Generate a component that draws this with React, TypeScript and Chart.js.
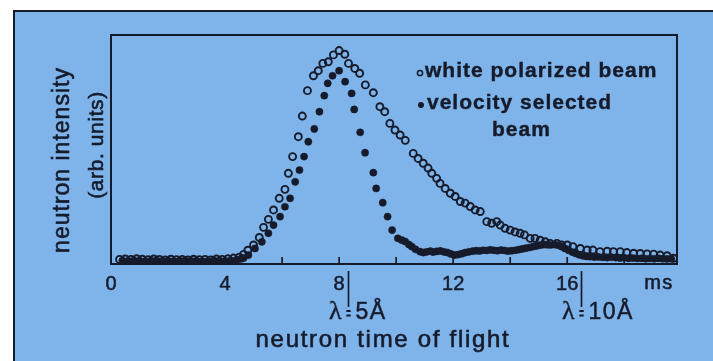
import React, { useEffect, useRef } from "react";
import { Chart, registerables } from "chart.js";

Chart.register(...registerables);

// Time of flight (ms) and intensity (arb. units) for the white polarized beam
const whiteTime = [
  0.3, 0.5, 0.7, 0.9, 1.1, 1.3, 1.5, 1.7, 1.9, 2.1, 2.3, 2.5, 2.7, 2.9, 3.1, 3.3, 3.5, 3.7, 3.9, 4.1,
  4.3, 4.5, 4.65, 4.8, 5.0, 5.2, 5.35, 5.52, 5.7, 5.9, 6.1, 6.22, 6.37, 6.57, 6.71, 6.89, 7.1, 7.27,
  7.43, 7.62, 7.8, 8.0, 8.2, 8.33, 8.55, 8.72, 8.92, 9.2, 9.43, 9.6, 9.78, 9.96, 10.14, 10.32, 10.6,
  10.77, 10.95, 11.12, 11.25, 11.42, 11.54, 11.72, 11.9, 12.07, 12.25, 12.42, 12.6, 12.77, 12.95,
  13.18, 13.35, 13.53, 13.65, 13.82, 14.0, 14.17, 14.35, 14.5, 14.7, 14.87, 15.05, 15.23, 15.4,
  15.64, 15.8, 16.0, 16.2, 16.46, 16.7, 16.9, 17.15, 17.4, 17.62, 17.86, 18.09, 18.33, 18.56, 18.8,
  19.03, 19.26, 19.5, 19.73,
];
const whiteIntensity = [
  2.0, 2.2, 2.0, 2.3, 2.1, 1.9, 2.2, 2.0, 1.8, 2.1, 1.9, 2.0, 1.8, 2.1, 1.9, 2.0, 1.8, 2.2, 2.0, 2.3,
  2.6, 3.0, 4.2, 6.0, 8.3, 11.6, 16.0, 19.5, 23.6, 28.7, 32.6, 39.6, 46.9, 55.6, 64.6, 75.7, 82.2, 84.4,
  87.6, 88.3, 91.3, 93.2, 91.6, 87.6, 85.4, 83.3, 78.2, 74.8, 68.7, 66.5, 61.4, 58.5, 56.3, 54.0, 48.3,
  46.1, 44.0, 41.9, 39.6, 37.4, 35.2, 33.0, 30.9, 29.5, 27.3, 26.6, 25.1, 23.6, 22.9,
  18.5, 17.8, 18.5, 17.0, 15.6, 14.8, 14.0, 13.4, 12.7, 11.2, 11.2, 10.4, 9.7, 9.0,
  9.0, 8.3, 8.3, 7.6, 6.8, 6.1, 6.1, 5.4, 5.6, 5.4, 5.4, 5.0, 4.7, 4.6, 4.4,
  4.3, 3.9, 3.6, 2.5,
];

// Time of flight (ms) and intensity (arb. units) for the velocity selected beam
const velocityTime = [
  0.4, 0.6, 0.8, 1.0, 1.2, 1.4, 1.6, 1.8, 2.0, 2.2, 2.4, 2.6, 2.8, 3.0, 3.2, 3.4, 3.6, 3.8, 4.0, 4.2,
  4.4, 4.55, 4.65, 4.82, 5.05, 5.29, 5.52, 5.7, 5.93, 6.1, 6.28, 6.46, 6.61, 6.77, 6.92, 7.13, 7.31,
  7.48, 7.6, 7.77, 8.0, 8.21, 8.44, 8.53, 8.74, 8.91, 9.2, 9.3, 9.53, 9.7, 9.86, 10.06, 10.2, 10.32,
  10.45, 10.55, 10.68, 10.84, 10.95, 11.07, 11.2, 11.3, 11.42, 11.55, 11.68, 11.8, 11.92, 12.05,
  12.17, 12.3, 12.42, 12.55, 12.68, 12.8, 12.92, 13.05, 13.18, 13.3, 13.42, 13.55, 13.68, 13.8,
  13.92, 14.05, 14.18, 14.3, 14.42, 14.55, 14.68, 14.8, 14.92, 15.05, 15.18, 15.3, 15.42, 15.55,
  15.68, 15.8, 15.92, 16.05, 16.18, 16.3, 16.42, 16.55, 16.68, 16.8, 16.95, 17.1, 17.25, 17.4,
  17.55, 17.7, 17.85, 18.0, 18.15, 18.3, 18.45, 18.6, 18.75, 18.9, 19.05, 19.2, 19.35, 19.5, 19.65,
];
const velocityIntensity = [
  1.5, 1.4, 1.6, 1.5, 1.3, 1.5, 1.6, 1.4, 1.5, 1.3, 1.5, 1.6, 1.4, 1.5, 1.3, 1.4, 1.6, 1.5, 1.4, 1.6,
  1.8, 2.2, 2.6, 3.9, 6.8, 9.7, 13.4, 17.0, 20.7, 25.0, 28.7, 35.9, 41.0, 46.9, 53.4, 59.0, 66.5,
  73.5, 78.9, 82.2, 84.4, 79.6, 74.5, 67.5, 57.5, 48.6, 39.9, 33.0, 26.8, 20.7, 14.8, 11.2, 10.4, 9.8,
  8.5, 7.6, 6.4, 5.4, 5.0, 5.3, 5.6, 5.2, 5.5, 5.7, 5.3, 5.0, 4.4, 3.9,
  4.1, 4.5, 5.0, 5.3, 5.6, 5.8, 5.7, 6.0, 5.9, 6.2, 6.0, 5.8, 6.1, 5.9,
  5.6, 5.8, 6.0, 6.3, 6.6, 6.9, 7.2, 7.6, 7.9, 8.2, 8.5, 8.4, 8.3, 8.5,
  8.2, 7.6, 6.8, 6.0, 5.2, 4.6, 4.0, 3.6, 3.3, 3.2, 3.0, 3.1, 2.9, 2.8,
  3.0, 2.8, 2.6, 2.7, 2.5, 2.6, 2.4, 2.5, 2.3, 2.4, 2.3, 2.5, 2.3, 2.2, 2.3,
];

// Axis layout values
const timeMin = 0;
const timeMax = 19.85;
const intensityMax = 100;
const labeledTicks = [0, 4, 8, 12, 16];
const tickMarks = [2, 4, 6, 8, 10, 12, 14, 16, 18];
const timeUnit = "ms";
const wavelengthMarks = [
  { time: 8, label: "5Å" },
  { time: 16, label: "10Å" },
];
const xTitle = "neutron time of flight";
const yTitle = "neutron intensity";
const yUnits = "(arb. units)";
const legendWhite = "white polarized beam";
const legendVelocity = ["velocity selected", "beam"];

const PANEL = "#7fb4ea";
const INK = "#161b2b";
const SANS = "'Liberation Sans', Arial, sans-serif";

// Fill text and run a thin stroke over it so the glyphs read a little heavier
function heavyText(ctx: CanvasRenderingContext2D, text: string, x: number, y: number, weight = 0.5) {
  ctx.lineWidth = weight;
  ctx.strokeText(text, x, y);
  ctx.fillText(text, x, y);
}

const decorPlugin = {
  id: "decor",
  beforeDraw(chart: any) {
    const { ctx, width, height } = chart;
    ctx.save();
    ctx.fillStyle = "#ffffff";
    ctx.fillRect(0, 0, width, height);
    ctx.fillStyle = PANEL;
    ctx.fillRect(13, 10, width - 13, height - 10);
    ctx.strokeStyle = INK;
    ctx.lineWidth = 2;
    ctx.beginPath();
    ctx.moveTo(14, height);
    ctx.lineTo(14, 11);
    ctx.lineTo(width, 11);
    ctx.stroke();
    ctx.restore();
  },
  beforeDatasetsDraw(chart: any) {
    const { ctx, chartArea } = chart;
    const xs = chart.scales.x;
    ctx.save();
    ctx.strokeStyle = INK;
    ctx.lineWidth = 2;
    ctx.strokeRect(chartArea.left, chartArea.top, chartArea.right - chartArea.left, chartArea.bottom - chartArea.top);
    ctx.lineWidth = 1.7;
    for (const t of tickMarks) {
      const x = xs.getPixelForValue(t);
      ctx.beginPath();
      ctx.moveTo(x, chartArea.bottom);
      ctx.lineTo(x, chartArea.bottom - 7);
      ctx.stroke();
    }
    ctx.restore();
  },
  afterDraw(chart: any) {
    const { ctx } = chart;
    const xs = chart.scales.x;
    ctx.save();
    ctx.fillStyle = INK;
    ctx.strokeStyle = INK;

    // unit label at the end of the time axis
    ctx.font = `20px ${SANS}`;
    (ctx as any).letterSpacing = "1.5px";
    ctx.textAlign = "center";
    ctx.textBaseline = "middle";
    heavyText(ctx, timeUnit, 659, 283);

    // wavelength markers below the 8 and 16 ms labels
    for (const m of wavelengthMarks) {
      ctx.font = `20px ${SANS}`;
      (ctx as any).letterSpacing = "0px";
      const px = xs.getPixelForValue(m.time);
      const w = ctx.measureText(String(m.time)).width;
      const bx = Math.round(px + w / 2 + 3) + 0.5;
      ctx.lineWidth = 1.7;
      ctx.beginPath();
      ctx.moveTo(bx, 271);
      ctx.lineTo(bx, 307);
      ctx.stroke();
      ctx.fillRect(bx - 2.2, 310, 4.4, 2);
      ctx.fillRect(bx - 2.2, 314.5, 4.4, 2);
      ctx.font = `26px 'Liberation Serif', serif`;
      ctx.textAlign = "right";
      ctx.textBaseline = "alphabetic";
      heavyText(ctx, "λ", bx - 7, 319, 0.4);
      ctx.font = `23px ${SANS}`;
      (ctx as any).letterSpacing = "1.5px";
      ctx.textAlign = "left";
      heavyText(ctx, m.label, bx + 7, 319);
    }

    // x axis title
    ctx.font = `24px ${SANS}`;
    (ctx as any).letterSpacing = "1.7px";
    ctx.textAlign = "center";
    ctx.textBaseline = "middle";
    heavyText(ctx, xTitle, 383, 340, 0.6);

    // y axis titles
    ctx.save();
    ctx.translate(63, 160);
    ctx.rotate(-Math.PI / 2);
    ctx.font = `23px ${SANS}`;
    (ctx as any).letterSpacing = "1px";
    heavyText(ctx, yTitle, 0, 0, 0.6);
    ctx.restore();
    ctx.save();
    ctx.translate(97, 145);
    ctx.rotate(-Math.PI / 2);
    ctx.font = `21px ${SANS}`;
    (ctx as any).letterSpacing = "0.6px";
    heavyText(ctx, yUnits, 0, 0, 0.6);
    ctx.restore();

    // legend
    ctx.font = `bold 21px ${SANS}`;
    (ctx as any).letterSpacing = "1px";
    ctx.textAlign = "left";
    ctx.textBaseline = "middle";
    heavyText(ctx, legendWhite, 425, 71, 0.4);
    heavyText(ctx, legendVelocity[0], 427, 103, 0.4);
    heavyText(ctx, legendVelocity[1], 492, 130, 0.4);
    ctx.lineWidth = 1.5;
    ctx.beginPath();
    ctx.arc(420, 73, 2.6, 0, Math.PI * 2);
    ctx.stroke();
    ctx.beginPath();
    ctx.arc(421, 105, 3, 0, Math.PI * 2);
    ctx.fill();
    ctx.restore();
  },
};

export default function App() {
  const canvasRef = useRef<HTMLCanvasElement | null>(null);

  useEffect(() => {
    const canvas = canvasRef.current;
    if (!canvas) return;
    const chart = new Chart(canvas, {
      type: "scatter",
      data: {
        datasets: [
          {
            label: legendVelocity.join(" "),
            data: velocityTime.map((t, i) => ({ x: t, y: velocityIntensity[i] })),
            pointRadius: 3.6,
            pointBackgroundColor: INK,
            pointBorderColor: INK,
            pointBorderWidth: 0.5,
            showLine: false,
          },
          {
            label: legendWhite,
            data: whiteTime.map((t, i) => ({ x: t, y: whiteIntensity[i] })),
            pointRadius: 3.5,
            pointBackgroundColor: "rgba(0,0,0,0)",
            pointBorderColor: INK,
            pointBorderWidth: 1.9,
            showLine: false,
          },
        ],
      },
      options: {
        responsive: false,
        animation: false,
        events: [],
        layout: { padding: { left: 111, right: 36, top: 35, bottom: 57 } },
        plugins: {
          legend: { display: false },
          tooltip: { enabled: false },
        },
        scales: {
          x: {
            type: "linear",
            min: timeMin,
            max: timeMax,
            grid: { display: false, drawTicks: false },
            border: { display: false },
            afterFit: (scale: any) => {
              scale.height = 40;
            },
            afterBuildTicks: (scale: any) => {
              scale.ticks = labeledTicks.map((v) => ({ value: v }));
            },
            ticks: {
              color: INK,
              padding: 8,
              maxRotation: 0,
              autoSkip: false,
              font: { family: SANS, size: 20 },
              textStrokeColor: INK,
              textStrokeWidth: 0.5,
              callback: (v: any) => String(v),
            },
          },
          y: {
            type: "linear",
            min: 0,
            max: intensityMax,
            display: false,
          },
        },
      },
      plugins: [decorPlugin],
    });
    return () => chart.destroy();
  }, []);

  return (
    <div style={{ position: "fixed", left: 0, top: 0, width: 713, height: 361 }}>
      <canvas ref={canvasRef} width={713} height={361} style={{ display: "block" }} />
    </div>
  );
}
